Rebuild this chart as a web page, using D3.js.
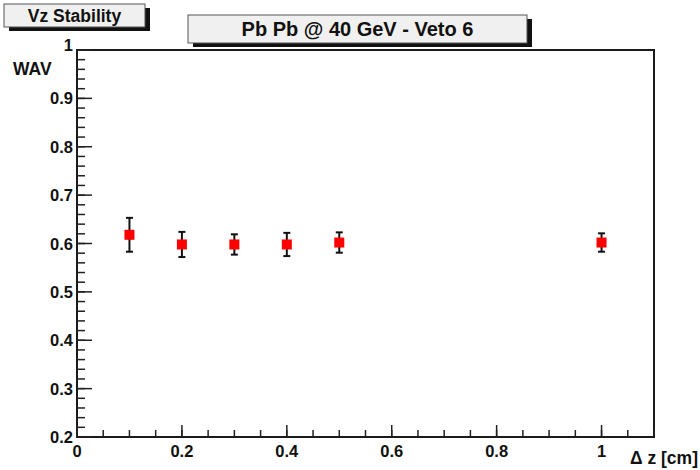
<!doctype html>
<html>
<head>
<meta charset="utf-8">
<script src="https://d3js.org/d3.v7.min.js"></script>
<style>
body { margin: 0; background: #fff; }
svg text { font-family: "Liberation Sans", Arial, sans-serif; font-weight: bold; fill: #111; }
</style>
</head>
<body>
<div id="chart"></div>
<script>
// data
var dz = [0.1, 0.2, 0.3, 0.4, 0.5, 1.0];
var wav = [0.618, 0.598, 0.598, 0.598, 0.602, 0.602];
var err = [0.035, 0.026, 0.021, 0.024, 0.021, 0.019];
var xTicks = [0, 0.2, 0.4, 0.6, 0.8, 1];
var yTicks = [0.2, 0.3, 0.4, 0.5, 0.6, 0.7, 0.8, 0.9, 1];

var width = 700, height = 470;
var padL = 77, padR = 654, padT = 50, padB = 437;

var svg = d3.select("#chart").append("svg")
  .attr("width", width).attr("height", height);

var x = d3.scaleLinear().domain([0, 1.1]).range([padL, padR]);
var y = d3.scaleLinear().domain([0.2, 1]).range([padB, padT]);

// frame
svg.append("rect")
  .attr("x", padL).attr("y", padT)
  .attr("width", padR - padL).attr("height", padB - padT)
  .attr("fill", "#fff").attr("stroke", "#1a1a1a").attr("stroke-width", 2);

// y ticks: major every 0.1, minor every 0.02
var yMinor = d3.range(0.2, 1.0001, 0.02);
svg.selectAll(".yminor").data(yMinor).enter().append("line")
  .attr("x1", padL).attr("x2", padL + 8)
  .attr("y1", function(d){ return y(d); }).attr("y2", function(d){ return y(d); })
  .attr("stroke", "#222").attr("stroke-width", 1.5);
svg.selectAll(".ymajor").data(yTicks).enter().append("line")
  .attr("x1", padL).attr("x2", padL + 15)
  .attr("y1", function(d){ return y(d); }).attr("y2", function(d){ return y(d); })
  .attr("stroke", "#222").attr("stroke-width", 1.5);
svg.selectAll(".ylab").data(yTicks).enter().append("text")
  .attr("x", padL - 4).attr("y", function(d){ return y(d) + 6; })
  .attr("text-anchor", "end").attr("font-size", 16.5)
  .text(function(d){ return d === 1 ? "1" : d3.format(".1f")(d); })
  .attr("dy", function(d){ return d === 1 ? -5 : 0; });

// x ticks: major every 0.2, minor every 0.05
var xMinor = d3.range(0, 1.1001, 0.05);
svg.selectAll(".xminor").data(xMinor).enter().append("line")
  .attr("x1", function(d){ return x(d); }).attr("x2", function(d){ return x(d); })
  .attr("y1", padB).attr("y2", padB - 7)
  .attr("stroke", "#222").attr("stroke-width", 1.5);
svg.selectAll(".xmajor").data(xTicks).enter().append("line")
  .attr("x1", function(d){ return x(d); }).attr("x2", function(d){ return x(d); })
  .attr("y1", padB).attr("y2", padB - 12)
  .attr("stroke", "#222").attr("stroke-width", 1.5);
svg.selectAll(".xlab").data(xTicks).enter().append("text")
  .attr("x", function(d){ return x(d); }).attr("y", padB + 20)
  .attr("text-anchor", "middle").attr("font-size", 16.5)
  .text(function(d){ return d === 0 || d === 1 ? String(d) : d3.format(".1f")(d); });

// axis titles
svg.append("text").attr("x", 13).attr("y", 75).attr("font-size", 17.5).text("WAV");
svg.append("text").attr("x", 698).attr("y", 464).attr("text-anchor", "end")
  .attr("font-size", 17.5).text("\u0394 z [cm]");

// error bars
var g = svg.append("g");
g.selectAll(".bar").data(dz).enter().append("line")
  .attr("x1", function(d){ return x(d); }).attr("x2", function(d){ return x(d); })
  .attr("y1", function(d, i){ return y(wav[i] + err[i]); })
  .attr("y2", function(d, i){ return y(wav[i] - err[i]); })
  .attr("stroke", "#111").attr("stroke-width", 2);
[1, -1].forEach(function(s){
  g.selectAll(".cap" + s).data(dz).enter().append("line")
    .attr("x1", function(d){ return x(d) - 3.5; }).attr("x2", function(d){ return x(d) + 3.5; })
    .attr("y1", function(d, i){ return y(wav[i] + s * err[i]); })
    .attr("y2", function(d, i){ return y(wav[i] + s * err[i]); })
    .attr("stroke", "#111").attr("stroke-width", 2);
});
g.selectAll(".pt").data(dz).enter().append("rect")
  .attr("x", function(d){ return x(d) - 5; })
  .attr("y", function(d, i){ return y(wav[i]) - 5; })
  .attr("width", 10).attr("height", 10)
  .attr("fill", "#f00");

// labelled boxes with drop shadow
function box(x0, y0, w, h, txt, size) {
  svg.append("rect").attr("x", x0 + 5).attr("y", y0 + 4)
    .attr("width", w).attr("height", h).attr("fill", "#111");
  svg.append("rect").attr("x", x0).attr("y", y0)
    .attr("width", w).attr("height", h)
    .attr("fill", "#f0f0f0").attr("stroke", "#555").attr("stroke-width", 1);
  svg.append("text").attr("x", x0 + w / 2).attr("y", y0 + h / 2 + size * 0.36)
    .attr("text-anchor", "middle").attr("font-size", size).text(txt);
}
box(4, 4, 141, 23, "Vz Stability", 17.5);
box(188, 15, 339, 28, "Pb Pb @ 40 GeV - Veto 6", 20);
</script>
</body>
</html>
